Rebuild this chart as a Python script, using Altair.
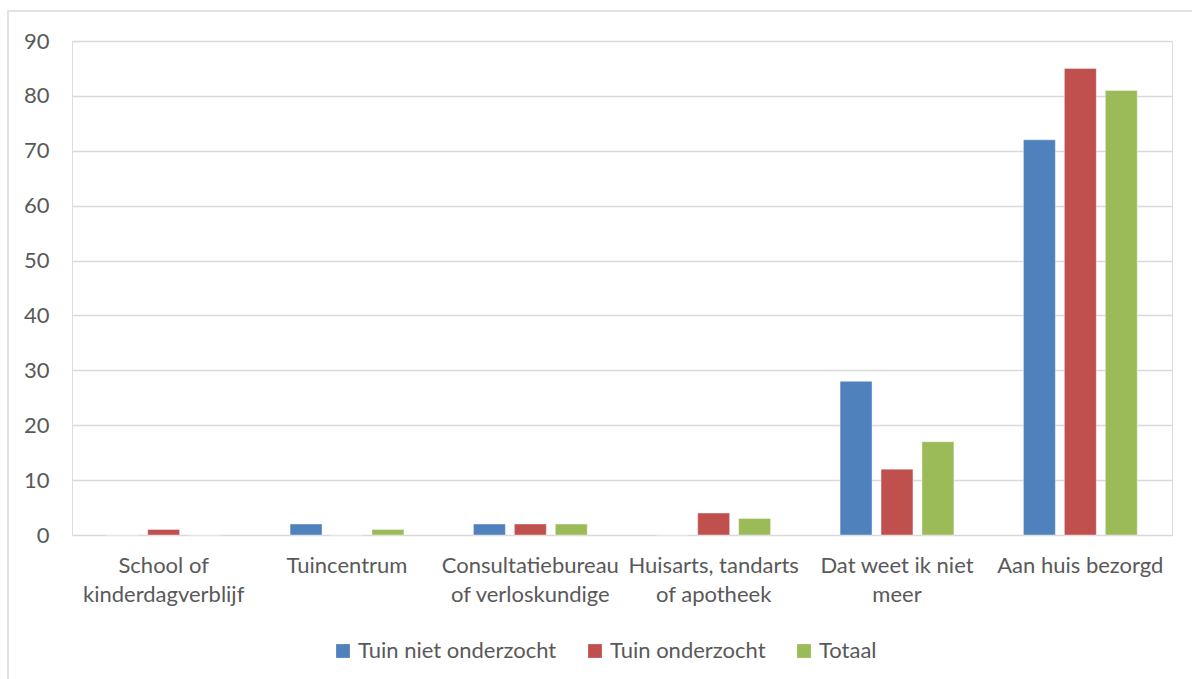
import altair as alt
import pandas as pd

categories = ["School of|kinderdagverblijf", "Tuincentrum", "Consultatiebureau|of verloskundige",
              "Huisarts, tandarts|of apotheek", "Dat weet ik niet|meer", "Aan huis bezorgd"]
series = ["Tuin niet onderzocht", "Tuin onderzocht", "Totaal"]
niet_onderzocht = [0, 2, 2, 0, 28, 72]
onderzocht = [1, 0, 2, 4, 12, 85]
totaal = [0, 1, 2, 3, 17, 81]
colors = ["#4F81BD", "#C0504D", "#9BBB59"]

rows = []
for vals, s in zip([niet_onderzocht, onderzocht, totaal], series):
    for c, v in zip(categories, vals):
        rows.append({"categorie": c, "reeks": s, "waarde": v})
df = pd.DataFrame(rows)

font = "Lato"
txt = "#595959"
fs = 22

bars = alt.Chart(df).mark_bar(stroke="white", strokeWidth=0.8, strokeOpacity=0.5).encode(
    x=alt.X("categorie:N", sort=categories, title=None,
            scale=alt.Scale(paddingInner=0.33, paddingOuter=0.165),
            axis=alt.Axis(labelAngle=0, domain=False, ticks=False, labelPadding=20,
                          labelExpr="split(datum.label, '|')", labelLineHeight=29,
                          labelFont=font, labelFontSize=fs, labelColor=txt, labelLimit=300)),
    xOffset=alt.XOffset("reeks:N", sort=series, scale=alt.Scale(paddingInner=0.22, paddingOuter=0.11)),
    y=alt.Y("waarde:Q", title=None, scale=alt.Scale(domain=[0, 90], nice=False),
            axis=alt.Axis(values=list(range(0, 91, 10)), domain=False, ticks=False, labelPadding=23,
                          labelFont=font, labelFontSize=fs, labelColor=txt,
                          gridColor="#d9d9d9", gridWidth=1.5)),
    color=alt.Color("reeks:N", sort=series, scale=alt.Scale(domain=series, range=colors),
                    legend=alt.Legend(title=None, orient="none", legendX=260, legendY=599,
                                      direction="horizontal", symbolType="square", symbolSize=190,
                                      symbolStrokeWidth=0, labelFont=font, labelFontSize=fs,
                                      labelColor=txt, columnPadding=27, labelOffset=4, labelLimit=400)),
)

frame = alt.Chart(pd.DataFrame({"a": [0]})).mark_rect(fill=None, stroke="#d9d9d9", strokeWidth=1.5).encode(
    x=alt.value(-64), x2=alt.value(1140), y=alt.value(-30), y2=alt.value(700)
)

chart = alt.layer(frame, bars).properties(
    width=1100, height=494,
    autosize=alt.AutoSizeParams(type="none"),
    padding={"left": 72, "top": 41, "right": 20, "bottom": 144},
).configure_view(stroke=None).configure(background="white")

chart.save("out.html", embed_options={"renderer": "svg", "actions": False})
